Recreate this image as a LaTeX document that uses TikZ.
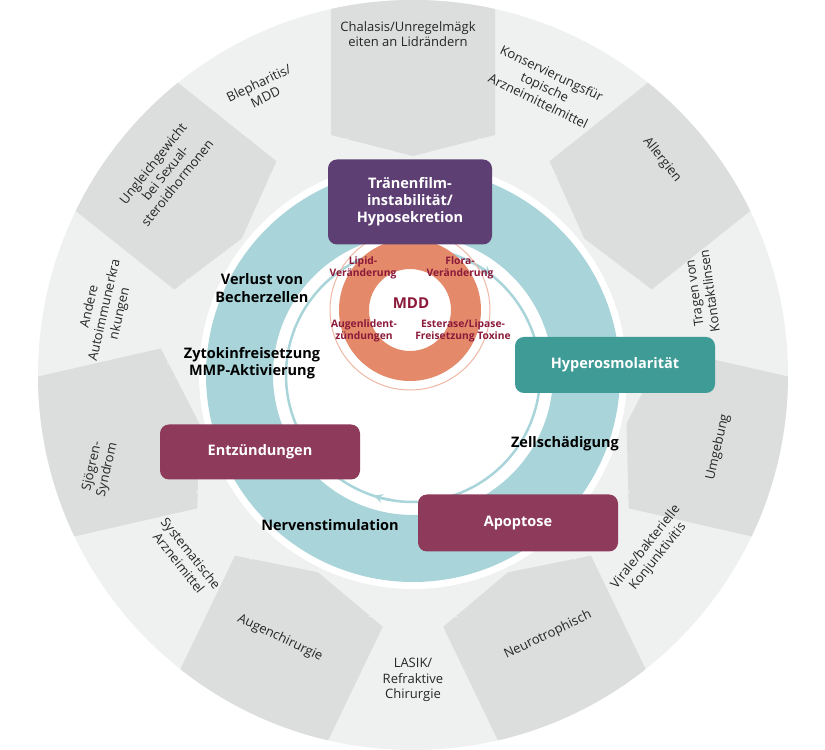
\documentclass[tikz,border=0pt]{standalone}
\usepackage{fontspec}
\setmainfont{Open Sans}
\usetikzlibrary{arrows.meta}
\definecolor{lightseg}{HTML}{EFF0F0}
\definecolor{darkseg}{HTML}{DCDDDD}
\definecolor{teal1}{HTML}{A9D5DA}
\definecolor{teal2}{HTML}{3E9B96}
\definecolor{purp}{HTML}{5E3F74}
\definecolor{wine}{HTML}{8E3A5A}
\definecolor{orng}{HTML}{E4896A}
\definecolor{mddred}{HTML}{8B1A3A}
\tikzset{
  seglbl/.style={font=\fontsize{13}{15.5}\selectfont, align=center, text=black!85, inner sep=1pt},
  boxn/.style={rounded corners=9pt, text=white, font=\bfseries\fontsize{14.5}{17}\selectfont, align=center},
  midlbl/.style={font=\bfseries\fontsize{14.5}{17.5}\selectfont, align=center, inner sep=1pt},
  mddlbl/.style={font=\bfseries\fontsize{10.3}{11.5}\selectfont, align=center, text=mddred, inner sep=0.5pt},
}
\begin{document}
\begin{tikzpicture}[x=1pt,y=1pt]
\useasboundingbox (0,0) rectangle (825,750);
\coordinate (C) at (413,375);
% outer ring
\fill[lightseg] (C) circle (375);
\begin{scope}
\clip (C) circle (375);
\foreach \a in {90,38.57,-12.86,-64.29,-115.71,-167.14,141.43}{
  \fill[darkseg, shift={(413,375)}, rotate=\a] (400,-82) -- (240,-82) -- (219,0) -- (240,82) -- (400,82) -- cycle;
}
\end{scope}
\fill[white] (C) circle (214);
\foreach \a in {64.29,12.86,-38.57,-90,-141.43,167.14,115.71}{
  \fill[lightseg, shift={(413,375)}, rotate=\a] (242,-45) -- (220,0) -- (242,45) -- cycle;
}
% teal ring
\fill[teal1, even odd rule] (C) circle (207) (C) circle (140);
\draw[teal1, line width=2.5pt] (C) circle (127);
\draw[teal1, line width=2.5pt, -{Stealth[length=9pt,width=9pt]}] (C) ++(-100:127) arc (-100:-108:127);
\draw[teal1, line width=2.5pt, -{Stealth[length=9pt,width=9pt]}] (C) ++(60:127) arc (60:52:127);
% orange
\coordinate (M) at (410,440);
\draw[orng!60, line width=1pt] (M) circle (80);
\fill[orng, even odd rule] (M) circle (71) (M) circle (41);
% boxes
\node[boxn, fill=purp, minimum width=164pt, minimum height=85pt] (tf) at (410,548) {Tränenfilm-\\instabilität/\\Hyposekretion};
\node[boxn, fill=teal2, minimum width=200pt, minimum height=56pt] (ho) at (615,385) {Hyperosmolarität};
\node[boxn, fill=wine, minimum width=200pt, minimum height=55pt] (ez) at (260,298) {Entzündungen};
\node[boxn, fill=wine, minimum width=200pt, minimum height=57pt] (ap) at (518,227) {Apoptose};
% MDD
\node[font=\bfseries\fontsize{15}{17}\selectfont, text=mddred] (mdd) at (411,447) {MDD};
\node[mddlbl] (l1) at (363,482) {Lipid-\\Veränderung};
\node[mddlbl] (l2) at (460,482) {Flora-\\Veränderung};
\node[mddlbl] (l3) at (364,419) {Augenlident-\\zündungen};
\node[mddlbl] (l4) at (463,419) {Esterase/Lipase-\\Freisetzung Toxine};
% mid labels
\node[midlbl] (m1) at (262,462) {Verlust von\\Becherzellen};
\node[midlbl] (m2) at (252,387) {Zytokinfreisetzung\\MMP-Aktivierung};
\node[midlbl] (m3) at (565,306) {Zellschädigung};
\node[midlbl] (m4) at (330,225) {Nervenstimulation};
% outer labels
\node[seglbl] (o1) at (408,716) {Chalasis/Unregelmägk\\eiten an Lidrändern};
\node[seglbl, rotate=-25.7] (o2) at (545,663) {Konservierungsfür\\topische\\Arzneimittelmittel};
\node[seglbl, rotate=-51.4] (o3) at (662,590) {Allergien};
\node[seglbl, rotate=98] (o4) at (702,458) {Tragen von\\Kontaktlinsen};
\node[seglbl, rotate=77.1] (o5) at (718,303) {Umgebung};
\node[seglbl, rotate=51.4] (o6) at (652,198) {Virale/bakterielle\\Konjunktivitis};
\node[seglbl, rotate=25.7] (o7) at (548,115) {Neurotrophisch};
\node[seglbl] (o8) at (413,70) {LASIK/\\Refraktive\\Chirurgie};
\node[seglbl, rotate=-25.7] (o9) at (280,112) {Augenchirurgie};
\node[seglbl, rotate=-51.4] (o10) at (185,192) {Systematische\\Arzneimittel};
\node[seglbl, rotate=77.1] (o11) at (100,282) {Sjögren-\\Syndrom};
\node[seglbl, rotate=77.1] (o12) at (105,440) {Andere\\Autoimmunerkra\\nkungen};
\node[seglbl, rotate=51.4] (o13) at (165,577) {Ungleichgewicht\\bei Sexual-\\steroidhormonen};
\node[seglbl, rotate=25.7] (o14) at (262,660) {Blepharitis/\\MDD};
\end{tikzpicture}
\end{document}
